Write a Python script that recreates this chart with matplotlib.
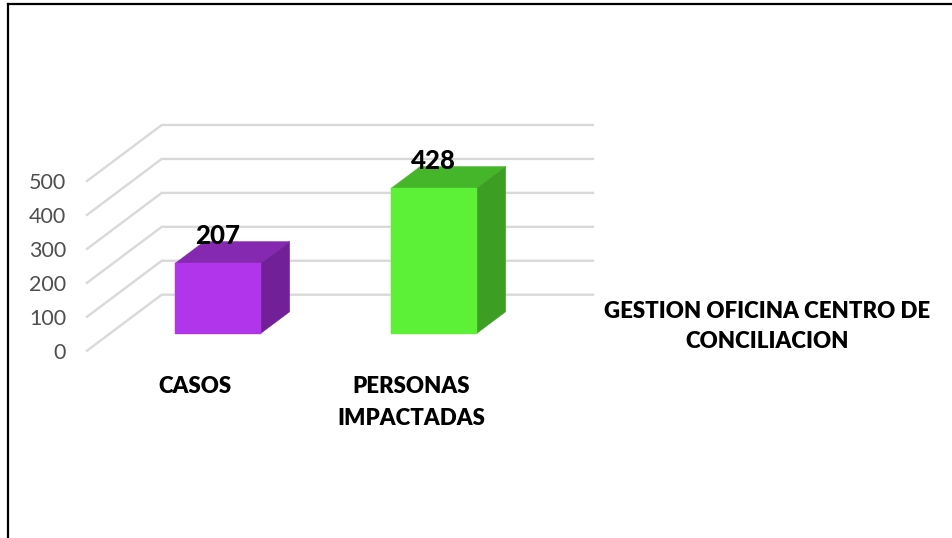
import matplotlib
matplotlib.use("Agg")
import matplotlib.pyplot as plt
from matplotlib.lines import Line2D

categories = ["CASOS", "PERSONAS\nIMPACTADAS"]
values = [207, 428]
value_ticks = [0, 100, 200, 300, 400, 500]
series_name = "GESTION OFICINA CENTRO DE\nCONCILIACION"

W, H = 953, 538
plt.rcParams["font.family"] = ["Lato", "DejaVu Sans"]
fig = plt.figure(figsize=(W / 100, H / 100), dpi=100, facecolor="white")

# plot box (front plane of the 3D box), given in pixels
L, R, B, T = 87, 519, 350.7, 181.0
ax = fig.add_axes([L / W, 1 - B / H, (R - L) / W, (B - T) / H])
ax.set_xlim(-0.5, 1.5)
ax.set_ylim(0, 500)
ax.patch.set_visible(False)
for s in ax.spines.values():
    s.set_visible(False)

# oblique projection: full wall depth in data units
DX = 74.7 * 2 / (R - L)
DY = 56.0 * 500 / (B - T)


def proj(x, y, d):
    return x + DX * d, y + DY * d


GRID = "#D9D9D9"
x_right = -0.5 + (593 - L) * 2 / (R - L)
for v in value_ticks:
    p0 = proj(-0.5, v, 0)
    p1 = proj(-0.5, v, 1)
    p2 = (x_right, p1[1])
    ax.plot([p0[0], p1[0], p2[0]], [p0[1], p1[1], p2[1]], color=GRID, lw=1.7,
            clip_on=False, zorder=1, solid_joinstyle="miter")

styles = [("#B035EB", "#8529B0", "#722098"), ("#5CF036", "#45B52A", "#3D9E24")]
HALF = 0.198
D0, D1 = 0.305, 0.695
for i, (val, (front, top, side)) in enumerate(zip(values, styles)):
    xl, xr = i - HALF, i + HALF
    fl = [proj(xl, 0, D0), proj(xr, 0, D0), proj(xr, val, D0), proj(xl, val, D0)]
    tp = [proj(xl, val, D0), proj(xr, val, D0), proj(xr, val, D1), proj(xl, val, D1)]
    sd = [proj(xr, 0, D0), proj(xr, 0, D1), proj(xr, val, D1), proj(xr, val, D0)]
    for pts, c in ((tp, top), (sd, side), (fl, front)):
        ax.fill([p[0] for p in pts], [p[1] for p in pts], facecolor=c, edgecolor=c,
                lw=0.3, clip_on=False, zorder=3)
    cx, cy = proj(i, val, D0)
    ax.annotate(str(val), (cx, cy), xytext=(0, 13.7), textcoords="offset points",
                ha="center", va="baseline", fontsize=18.5, fontweight="black",
                color="black", zorder=5, annotation_clip=False)

ax.set_yticks(value_ticks)
ax.set_xticks(range(len(categories)))
ax.set_xticklabels(categories, fontsize=16, fontweight="heavy", color="black",
                   linespacing=1.62)
ax.tick_params(axis="x", length=0, pad=18.5)
ax.tick_params(axis="y", length=0, pad=15, labelsize=15.5, labelcolor="#4F4F4F")

fig.text(767.5 / W, 1 - 326.5 / H, series_name, ha="center", va="center",
         fontsize=16, fontweight="heavy", color="black", linespacing=1.55)

fig.add_artist(Line2D([8 / W, 8 / W], [0, 1 - 4 / H], color="black", lw=1.6,
                      solid_capstyle="projecting"))
fig.add_artist(Line2D([8 / W, 1], [1 - 4 / H, 1 - 4 / H], color="black", lw=1.6,
                      solid_capstyle="projecting"))

fig.savefig("out.png", dpi=100)
